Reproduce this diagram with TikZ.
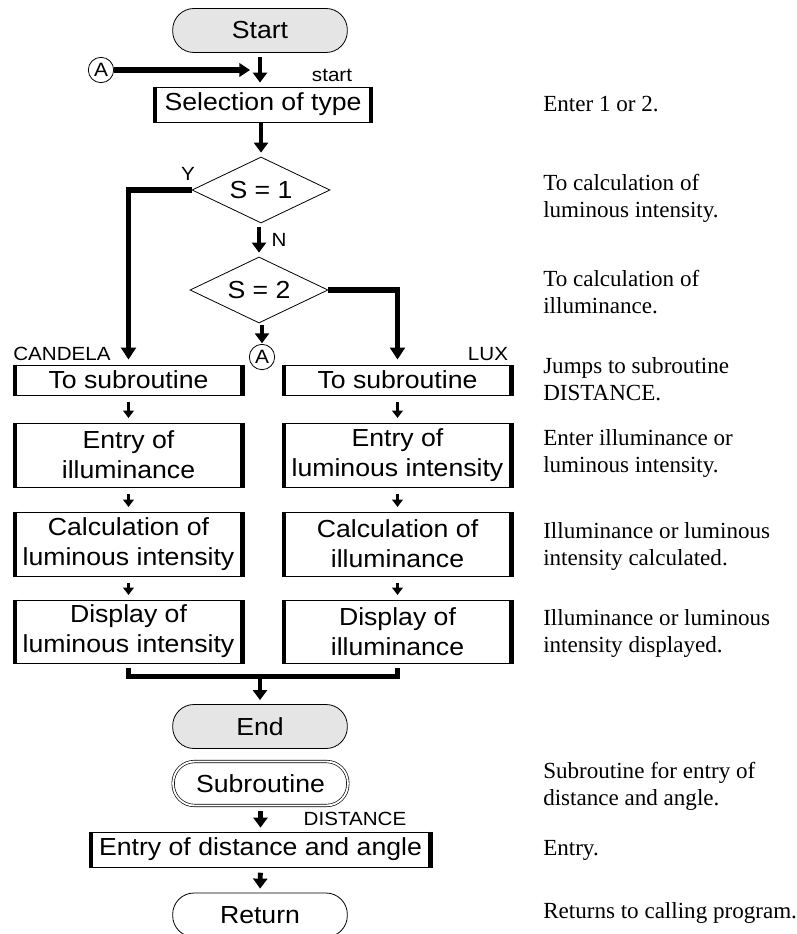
\documentclass[tikz,border=0pt]{standalone}
\usepackage{fontspec}
\setmainfont{Liberation Serif}
\setsansfont{Liberation Sans}[FakeStretch=1.08]
\usetikzlibrary{shapes.geometric,arrows.meta}

\newcommand{\flowfont}{\sffamily\fontsize{18.5}{22.5}\selectfont}
\newcommand{\tagfont}{\sffamily\fontsize{14.3}{17}\selectfont}
\newcommand{\connfont}{\sffamily\fontsize{14.5}{16}\selectfont}
\newcommand{\notefont}{\rmfamily\fontsize{17.3}{20.25}\selectfont}

\begin{document}
\begin{tikzpicture}[x=0.75pt,y=-0.75pt,
    flow/.style={draw,line width=0.6pt,inner sep=0pt,align=center,font=\flowfont},
    box/.style={flow,minimum width=173.25pt},
    term/.style={flow,rounded corners=16pt,minimum width=131pt,minimum height=33pt},
    test/.style={flow,diamond,aspect=2,minimum width=103.5pt,minimum height=49.5pt},
    conn/.style={draw,circle,line width=0.6pt,inner sep=0pt,minimum size=19pt,font=\connfont},
    tag/.style={inner sep=0pt,font=\tagfont},
    note/.style={anchor=base west,inner sep=0pt,align=left,font=\notefont},
    bar/.style={line width=3pt},
    branch/.style={line width=4.3pt},
    bigarrow/.style={line width=3.6pt,-{Triangle[length=7.5pt,width=10.5pt]}},
    smallarrow/.style={line width=2.4pt,-{Triangle[length=5.5pt,width=8pt]}}]

  \useasboundingbox (0,0) rectangle (796,934);

  \node[term,fill=gray!20] (start) at (260,30.5) {Start};
  \node[conn] (ain) at (101,70) {A};
  \coordinate (atip) at (250,70);
  \node[box,minimum width=164pt,minimum height=26.25pt] (sel) at (263,104.5) {Selection of type};
  \node[test] (s1) at (261,190) {S = 1};
  \node[test] (s2) at (259,290) {S = 2};
  \node[conn] (aout) at (262,357) {A};

  \node[box,minimum height=22.5pt] (subl) at (128.5,380) {To subroutine};
  \node[box,minimum height=48pt] (entl) at (128.5,455) {Entry of\\illuminance};
  \node[box,minimum height=48pt] (calcl) at (128.5,544) {Calculation of\\luminous intensity};
  \node[box,minimum height=47.25pt] (displ) at (128.5,631.5) {Display of\\luminous intensity};

  \node[box,minimum height=22.5pt] (subr) at (397.5,380) {To subroutine};
  \node[box,minimum height=48pt] (entr) at (397.5,455) {Entry of\\luminous intensity};
  \node[box,minimum height=48pt] (calcr) at (397.5,544) {Calculation of\\illuminance};
  \node[box,minimum height=47.25pt] (dispr) at (397.5,631.5) {Display of\\illuminance};

  \node[term,fill=gray!20] (end) at (260,726.5) {End};
  \node[term,double,double distance=1.4pt,line width=0.5pt] (sub) at (260.5,783.5) {Subroutine};
  \node[box,minimum width=257.25pt,minimum height=26.25pt] (entd) at (260.5,849.5) {Entry of distance and angle};
  \node[term] (ret) at (260,915) {Return};

  \foreach \b in {sel,subl,entl,calcl,displ,subr,entr,calcr,dispr,entd}
    \draw[bar] ([xshift=1.5pt]\b.north west) -- ([xshift=1.5pt]\b.south west)
               ([xshift=-1.5pt]\b.north east) -- ([xshift=-1.5pt]\b.south east);

  \node[tag] (starttag) at (332,75) {start};
  \node[tag] (ytag) at (188,174) {Y};
  \node[tag] (ntag) at (279,240) {N};
  \node[tag] (candela) at (62,354) {CANDELA};
  \node[tag] (lux) at (488,354) {LUX};
  \node[tag] (distance) at (355,819) {DISTANCE};

  \draw[line width=4pt,-{Triangle[length=8pt,width=10pt]}] (ain) -- (atip);
  \draw[bigarrow,shorten <=3pt,shorten >=3pt] (start.south) -- (start.south |- sel.north);
  \draw[bigarrow,shorten >=3pt] (s1.north |- sel.south) -- (s1.north);
  \draw[bigarrow,shorten <=3pt,shorten >=3pt] (s2.north |- s1.south) -- (s2.north);
  \draw[branch,-{Triangle[length=9pt,width=11pt]},shorten >=3.75pt] (s1.west) -| (subl.north);
  \draw[branch,-{Triangle[length=9pt,width=11pt]},shorten >=3.75pt] (s2.east) -| (subr.north);
  \draw[bigarrow,shorten <=1pt,shorten >=0.5pt] (aout.north |- s2.south) -- (aout.north);

  \foreach \a/\b in {subl/entl,entl/calcl,calcl/displ,subr/entr,entr/calcr,calcr/dispr}
    \draw[smallarrow,shorten <=5pt,shorten >=3.5pt] (\a) -- (\b);

  \coordinate (jn) at (260,676.5);
  \draw[branch] ([yshift=-3.5pt]displ.south) |- (jn) -| ([yshift=-3.5pt]dispr.south);
  \draw[bigarrow,shorten >=3pt] (jn) -- (end.north);
  \draw[bigarrow,shorten <=4pt,shorten >=3pt] (sub.south) -- (entd.north);
  \draw[bigarrow,shorten <=4pt,shorten >=3pt] (entd.south) -- (ret.north);

  \node[note] (n1) at (543,112) {Enter 1 or 2.};
  \node[note] (n2) at (543,218) {To calculation of\\luminous intensity.};
  \node[note] (n3) at (543,313) {To calculation of\\illuminance.};
  \node[note] (n4) at (543,400) {Jumps to subroutine\\DISTANCE.};
  \node[note] (n5) at (543,472) {Enter illuminance or\\luminous intensity.};
  \node[note] (n6) at (543,565) {Illuminance or luminous\\intensity calculated.};
  \node[note] (n7) at (543,652) {Illuminance or luminous\\intensity displayed.};
  \node[note] (n8) at (543,805) {Subroutine for entry of\\distance and angle.};
  \node[note] (n9) at (543,855) {Entry.};
  \node[note] (n10) at (543,918) {Returns to calling program.};
\end{tikzpicture}
\end{document}
